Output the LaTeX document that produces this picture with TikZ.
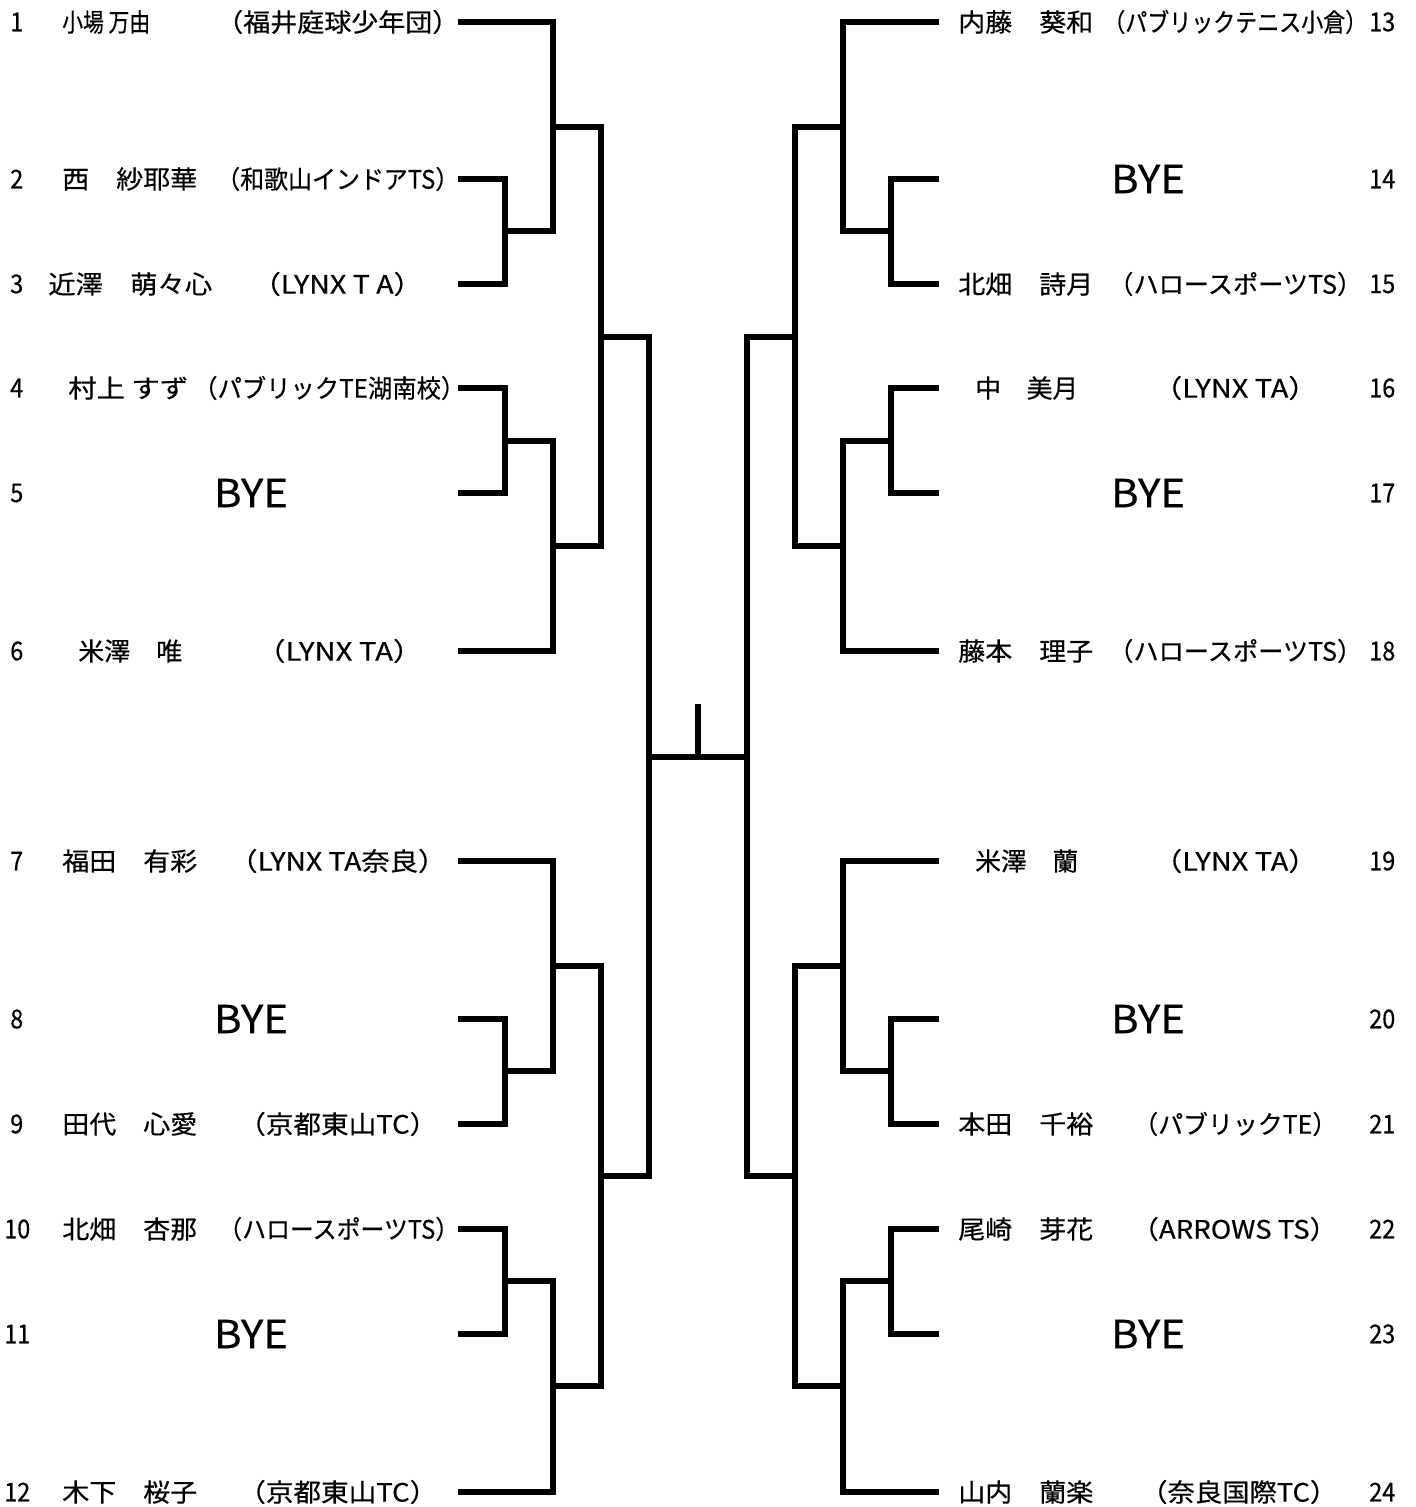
\documentclass[tikz,border=0pt]{standalone}
\usepackage{fontspec}
\setmainfont{Noto Sans CJK JP}
\newfontfamily\jpf{Noto Sans CJK JP}[FakeBold=0.5]
\usepackage{graphicx}
\newlength\pxu
\setlength\pxu{0.75pt}
\newcommand\fitw[2]{\resizebox{#1\pxu}{\height}{#2}}
\newcommand\nm[1]{\scalebox{0.9}[1]{#1}}
\tikzset{
  wire/.style={line width=4.3pt, line join=miter, line cap=butt},
  tickline/.style={line width=4.5pt, line cap=butt},
  lab/.style={anchor=west, inner sep=0pt, font=\jpf\fontsize{19pt}{22pt}\selectfont},
  num/.style={anchor=west, inner sep=0pt, font=\jpf\fontsize{19.5pt}{22pt}\selectfont},
  bye/.style={anchor=center, inner sep=0pt, font=\jpf\fontsize{29pt}{34pt}\selectfont},
}
\begin{document}
\begin{tikzpicture}[x=0.75pt, y=-0.75pt]
\useasboundingbox (0,0) rectangle (1416,1507);
% ---------- player line ends ----------
\coordinate (p1) at (458,22);   \coordinate (p2) at (458,179);  \coordinate (p3) at (458,284);
\coordinate (p4) at (458,388);  \coordinate (p5) at (458,493);  \coordinate (p6) at (458,651);
\coordinate (p7) at (458,861);  \coordinate (p8) at (458,1019); \coordinate (p9) at (458,1124);
\coordinate (p10) at (458,1229);\coordinate (p11) at (458,1334);\coordinate (p12) at (458,1492);
\coordinate (p13) at (939,22);  \coordinate (p14) at (939,179); \coordinate (p15) at (939,284);
\coordinate (p16) at (939,388); \coordinate (p17) at (939,493); \coordinate (p18) at (939,651);
\coordinate (p19) at (939,861); \coordinate (p20) at (939,1019);\coordinate (p21) at (939,1124);
\coordinate (p22) at (939,1229);\coordinate (p23) at (939,1334);\coordinate (p24) at (939,1492);
% ---------- match points, left ----------
\coordinate (mA) at (505,231);  \coordinate (mB) at (553,127);
\coordinate (mD) at (505,441);  \coordinate (mE) at (553,546);
\coordinate (mC) at (601,337);
\coordinate (mI) at (505,1071); \coordinate (mH) at (553,966);
\coordinate (mJ) at (505,1281); \coordinate (mK) at (553,1386);
\coordinate (mL) at (601,1176);
\coordinate (fL) at (649,757);
% ---------- match points, right ----------
\coordinate (nA) at (891,231);  \coordinate (nB) at (843,127);
\coordinate (nD) at (891,441);  \coordinate (nE) at (843,546);
\coordinate (nC) at (795,337);
\coordinate (nI) at (891,1071); \coordinate (nH) at (843,966);
\coordinate (nJ) at (891,1281); \coordinate (nK) at (843,1386);
\coordinate (nL) at (795,1176);
\coordinate (fR) at (747,757);
\coordinate (win) at (698,757); \coordinate (wtop) at (698,704);
% ---------- bracket lines, left ----------
\draw[wire] (p2) -| (mA);  \draw[wire] (p3) -| (mA);
\draw[wire] (p1) -| (mB);  \draw[wire] (mA) -| (mB);
\draw[wire] (p4) -| (mD);  \draw[wire] (p5) -| (mD);
\draw[wire] (mD) -| (mE);  \draw[wire] (p6) -| (mE);
\draw[wire] (mB) -| (mC);  \draw[wire] (mE) -| (mC);
\draw[wire] (p8) -| (mI);  \draw[wire] (p9) -| (mI);
\draw[wire] (p7) -| (mH);  \draw[wire] (mI) -| (mH);
\draw[wire] (p10) -| (mJ); \draw[wire] (p11) -| (mJ);
\draw[wire] (mJ) -| (mK);  \draw[wire] (p12) -| (mK);
\draw[wire] (mH) -| (mL);  \draw[wire] (mK) -| (mL);
\draw[wire] (mC) -| (fL);  \draw[wire] (mL) -| (fL);
% ---------- bracket lines, right ----------
\draw[wire] (p14) -| (nA); \draw[wire] (p15) -| (nA);
\draw[wire] (p13) -| (nB); \draw[wire] (nA) -| (nB);
\draw[wire] (p16) -| (nD); \draw[wire] (p17) -| (nD);
\draw[wire] (nD) -| (nE);  \draw[wire] (p18) -| (nE);
\draw[wire] (nB) -| (nC);  \draw[wire] (nE) -| (nC);
\draw[wire] (p20) -| (nI); \draw[wire] (p21) -| (nI);
\draw[wire] (p19) -| (nH); \draw[wire] (nI) -| (nH);
\draw[wire] (p22) -| (nJ); \draw[wire] (p23) -| (nJ);
\draw[wire] (nJ) -| (nK);  \draw[wire] (p24) -| (nK);
\draw[wire] (nH) -| (nL);  \draw[wire] (nK) -| (nL);
\draw[wire] (nC) -| (fR);  \draw[wire] (nL) -| (fR);
% ---------- final ----------
\draw[wire] (fL) -- (fR);
\draw[tickline] (win) -- (wtop);
% ---------- left labels ----------
\node[num] (k1) at (10,22) {\nm{1}};
\node[lab] (a1) at (62,22) {\fitw{88}{小場 万由}};
\node[lab] (c1) at (216,22) {\fitw{243}{（福井庭球少年団）}};
\node[num] (k2) at (10,179) {\nm{2}};
\node[lab] (a2) at (62,179) {\fitw{135}{西　紗耶華}};
\node[lab] (c2) at (216,179) {\fitw{243}{（和歌山インドアTS）}};
\node[num] (k3) at (10,284) {\nm{3}};
\node[lab] (a3) at (48,284) {\fitw{164}{近澤　萌々心}};
\node[lab] (c3) at (252,284) {\fitw{170}{（LYNX T A）}};
\node[num] (k4) at (10,388) {\nm{4}};
\node[lab] (a4) at (68,388) {\fitw{120}{村上 すず}};
\node[lab] (c4) at (193,388) {\fitw{272}{（パブリックTE湖南校）}};
\node[num] (k5) at (10,493) {\nm{5}};
\node[bye] (b5) at (251,493) {\fitw{74}{BYE}};
\node[num] (k6) at (10,651) {\nm{6}};
\node[lab] (a6) at (78,651) {\fitw{104}{米澤　唯}};
\node[lab] (c6) at (256,651) {\fitw{166}{（LYNX TA）}};
\node[num] (k7) at (10,861) {\nm{7}};
\node[lab] (a7) at (62,861) {\fitw{135}{福田　有彩}};
\node[lab] (c7) at (229,861) {\fitw{217}{（LYNX TA奈良）}};
\node[num] (k8) at (10,1019) {\nm{8}};
\node[bye] (b8) at (251,1019) {\fitw{74}{BYE}};
\node[num] (k9) at (10,1124) {\nm{9}};
\node[lab] (a9) at (62,1124) {\fitw{135}{田代　心愛}};
\node[lab] (c9) at (238,1124) {\fitw{199}{（京都東山TC）}};
\node[num] (k10) at (4,1229) {\nm{10}};
\node[lab] (a10) at (62,1229) {\fitw{135}{北畑　杏那}};
\node[lab] (c10) at (218,1229) {\fitw{241}{（ハロースポーツTS）}};
\node[num] (k11) at (4,1334) {\nm{11}};
\node[bye] (b11) at (251,1334) {\fitw{74}{BYE}};
\node[num] (k12) at (4,1492) {\nm{12}};
\node[lab] (a12) at (62,1492) {\fitw{135}{木下　桜子}};
\node[lab] (c12) at (238,1492) {\fitw{199}{（京都東山TC）}};
% ---------- right labels ----------
\node[lab] (a13) at (958,22) {\fitw{135}{内藤　葵和}};
\node[lab] (c13) at (1103,22) {\fitw{264}{（パブリックテニス小倉）}};
\node[num] (k13) at (1369,22) {\nm{13}};
\node[bye] (b14) at (1148,179) {\fitw{74}{BYE}};
\node[num] (k14) at (1369,179) {\nm{14}};
\node[lab] (a15) at (958,284) {\fitw{135}{北畑　詩月}};
\node[lab] (c15) at (1108,284) {\fitw{254}{（ハロースポーツTS）}};
\node[num] (k15) at (1369,284) {\nm{15}};
\node[lab] (a16) at (975,388) {\fitw{103}{中　美月}};
\node[lab] (c16) at (1153,388) {\fitw{164}{（LYNX TA）}};
\node[num] (k16) at (1369,388) {\nm{16}};
\node[bye] (b17) at (1148,493) {\fitw{74}{BYE}};
\node[num] (k17) at (1369,493) {\nm{17}};
\node[lab] (a18) at (958,651) {\fitw{135}{藤本　理子}};
\node[lab] (c18) at (1108,651) {\fitw{254}{（ハロースポーツTS）}};
\node[num] (k18) at (1369,651) {\nm{18}};
\node[lab] (a19) at (975,861) {\fitw{103}{米澤　蘭}};
\node[lab] (c19) at (1153,861) {\fitw{164}{（LYNX TA）}};
\node[num] (k19) at (1369,861) {\nm{19}};
\node[bye] (b20) at (1148,1019) {\fitw{74}{BYE}};
\node[num] (k20) at (1369,1019) {\nm{20}};
\node[lab] (a21) at (958,1124) {\fitw{135}{本田　千裕}};
\node[lab] (c21) at (1133,1124) {\fitw{204}{（パブリックTE）}};
\node[num] (k21) at (1369,1124) {\nm{21}};
\node[lab] (a22) at (958,1229) {\fitw{135}{尾崎　芽花}};
\node[lab] (c22) at (1131,1229) {\fitw{206}{（ARROWS TS）}};
\node[num] (k22) at (1369,1229) {\nm{22}};
\node[bye] (b23) at (1148,1334) {\fitw{74}{BYE}};
\node[num] (k23) at (1369,1334) {\nm{23}};
\node[lab] (a24) at (958,1492) {\fitw{135}{山内　蘭楽}};
\node[lab] (c24) at (1140,1492) {\fitw{197}{（奈良国際TC）}};
\node[num] (k24) at (1369,1492) {\nm{24}};
\end{tikzpicture}
\end{document}
